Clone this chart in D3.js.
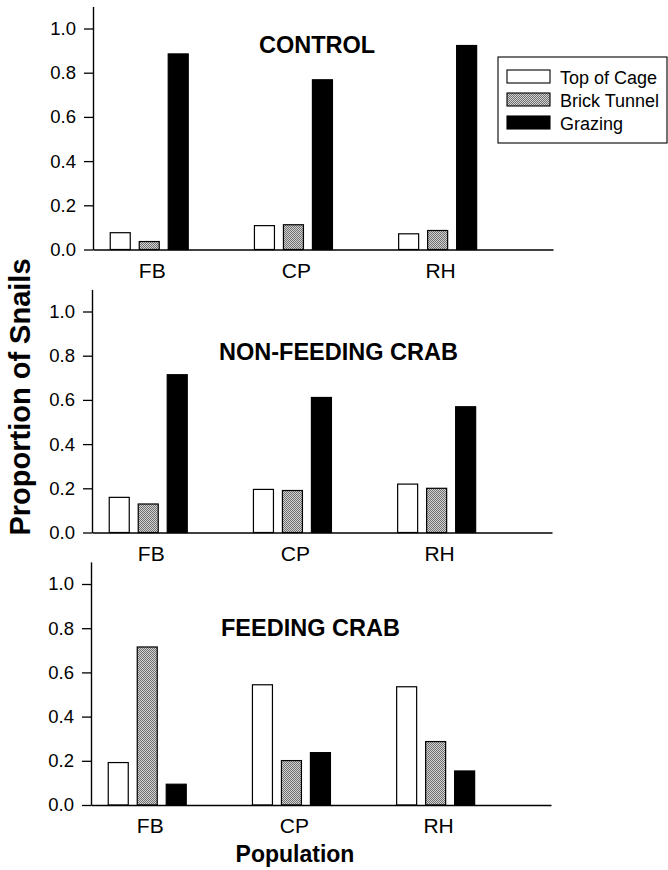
<!DOCTYPE html>
<html>
<head>
<meta charset="utf-8">
<script src="https://cdn.jsdelivr.net/npm/d3@7"></script>
<style>
  html, body { margin: 0; padding: 0; background: #fff; }
  svg { display: block; }
  text { font-family: "Liberation Sans", Arial, Helvetica, sans-serif; fill: #000; }
</style>
</head>
<body>
<svg id="chart" width="668" height="870"></svg>
<script>
// ---------- DATA ----------
const categories = ["FB", "CP", "RH"];
const seriesNames = ["Top of Cage", "Brick Tunnel", "Grazing"];
const panelTitles = ["CONTROL", "NON-FEEDING CRAB", "FEEDING CRAB"];
// rows = series (Top of Cage, Brick Tunnel, Grazing), columns = categories (FB, CP, RH)
const controlValues    = [[0.076, 0.108, 0.071], [0.036, 0.112, 0.086], [0.885, 0.768, 0.923]];
const nonFeedingValues = [[0.159, 0.195, 0.219], [0.129, 0.190, 0.200], [0.714, 0.611, 0.569]];
const feedingValues    = [[0.192, 0.544, 0.535], [0.715, 0.201, 0.287], [0.094, 0.237, 0.154]];
const yTickValues = [0, 0.2, 0.4, 0.6, 0.8, 1.0];
const yAxisTitle = "Proportion of Snails";
const xAxisTitle = "Population";

const panelValues = [controlValues, nonFeedingValues, feedingValues];

// ---------- LAYOUT ----------
const layout = [
  { left: 93, base: 249.5, titleX: 259, titleY: 53 },
  { left: 92, base: 532.5, titleX: 219, titleY: 360 },
  { left: 91, base: 805,   titleX: 221, titleY: 636 }
];
const plotW = 460;
const unitH = 221; // px per 1.0

const svg = d3.select("#chart");
const defs = svg.append("defs");
const pat = defs.append("pattern")
  .attr("id", "brick").attr("patternUnits", "userSpaceOnUse")
  .attr("width", 2).attr("height", 2);
pat.append("rect").attr("width", 2).attr("height", 2).attr("fill", "#d2d2d2");
pat.append("rect").attr("x", 0).attr("y", 0).attr("width", 1).attr("height", 1).attr("fill", "#707070");
pat.append("rect").attr("x", 1).attr("y", 1).attr("width", 1).attr("height", 1).attr("fill", "#707070");

const fills = ["#ffffff", "url(#brick)", "#000000"];
const color = d3.scaleOrdinal().domain(seriesNames).range(fills);

const sub = d3.scaleBand().domain(seriesNames).range([-39, 39]).paddingInner(0.31);

panelValues.forEach((vals, pi) => {
  const L = layout[pi];
  const x = d3.scaleLinear().domain([0.61, 3.8]).range([L.left, L.left + plotW]);
  const y = d3.scaleLinear().domain([0, 1.1]).range([L.base, L.base - unitH * 1.1]);
  const g = svg.append("g");

  // bars
  seriesNames.forEach((s, si) => {
    g.selectAll(null)
      .data(categories.map((c, ci) => ({ c, ci, v: vals[si][ci] })))
      .enter().append("rect")
      .attr("x", d => x(d.ci + 1) + sub(s))
      .attr("y", d => y(d.v))
      .attr("width", sub.bandwidth())
      .attr("height", d => y(0) - y(d.v))
      .attr("fill", color(s))
      .attr("stroke", "#000")
      .attr("stroke-width", 1.2);
  });

  // y axis
  const yAxis = d3.axisLeft(y).tickValues(yTickValues).tickFormat(d3.format(".1f"))
    .tickSize(9).tickPadding(8).tickSizeOuter(0);
  const ya = g.append("g").attr("transform", `translate(${L.left},0)`).call(yAxis);
  ya.select(".domain").attr("stroke", "#000").attr("stroke-width", 1.4);
  ya.selectAll(".tick line").attr("stroke", "#000").attr("stroke-width", 1.3);
  ya.selectAll(".tick text").attr("font-size", 18.5).attr("font-family", "Liberation Sans, Arial, sans-serif").attr("fill", "#000");

  // x axis baseline
  const xAxis = d3.axisBottom(x).tickValues([]).tickSizeOuter(0);
  const xa = g.append("g").attr("transform", `translate(0,${L.base})`).call(xAxis);
  xa.select(".domain").attr("stroke", "#000").attr("stroke-width", 1.5);

  // category labels
  g.selectAll(null).data(categories).enter().append("text")
    .attr("x", (d, i) => x(i + 1) + 3)
    .attr("y", L.base + 28)
    .attr("text-anchor", "middle")
    .attr("font-size", 21)
    .text(d => d);

  // title
  g.append("text")
    .attr("x", L.titleX).attr("y", L.titleY)
    .attr("font-size", 23.5).attr("font-weight", "bold")
    .text(panelTitles[pi]);
});

// legend
const leg = svg.append("g").attr("transform", "translate(498,57)");
leg.append("rect").attr("width", 169).attr("height", 86)
  .attr("fill", "#fff").attr("stroke", "#000").attr("stroke-width", 1.1);
seriesNames.forEach((s, i) => {
  leg.append("rect").attr("x", 9).attr("y", 13 + i * 23).attr("width", 43).attr("height", 13)
    .attr("fill", color(s)).attr("stroke", "#000").attr("stroke-width", 1.1);
  leg.append("text").attr("x", 62).attr("y", 26.5 + i * 23).attr("font-size", 18).text(s);
});

// axis titles
svg.append("text")
  .attr("transform", "translate(30,397) rotate(-90)")
  .attr("text-anchor", "middle")
  .attr("font-size", 29).attr("font-weight", "bold")
  .text(yAxisTitle);
svg.append("text")
  .attr("x", 295).attr("y", 862)
  .attr("text-anchor", "middle")
  .attr("font-size", 23).attr("font-weight", "bold")
  .text(xAxisTitle);
</script>
</body>
</html>
